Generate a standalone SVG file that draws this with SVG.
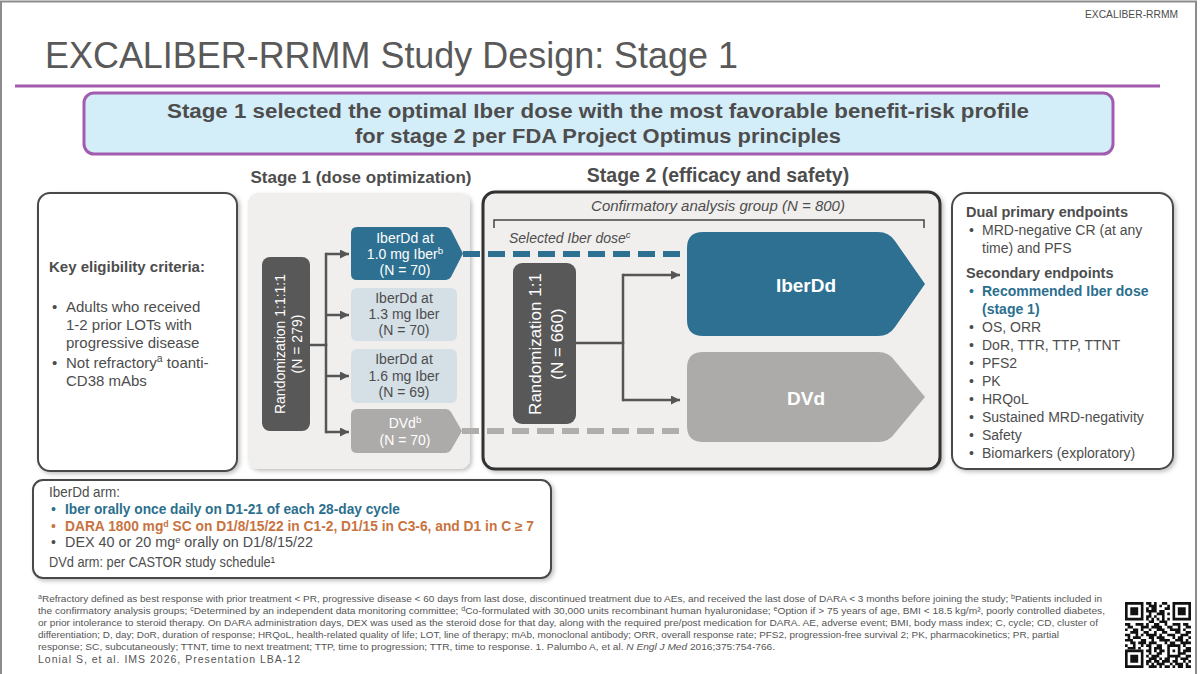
<svg xmlns="http://www.w3.org/2000/svg" width="1200" height="674" viewBox="0 0 1200 674">
<defs>
<style>
text{font-family:"Liberation Sans",Arial,Helvetica,sans-serif;fill:#4d4d4d}
.b{font-weight:bold}
.i{font-style:italic}
.w{fill:#fff}
.tl{fill:#2b6f8e}
.or{fill:#c8733f}
.fn{font-size:9.5px;fill:#555}
.box{fill:#fff;stroke:#4a4a4a;stroke-width:2}
.stage{fill:#f1efed}
.teal{fill:#2e7091}
.lb{fill:#d4dfe6}
.gr{fill:#adabaa}
.dark{fill:#595858}
.conn{fill:none;stroke:#555;stroke-width:2.5}
.trunk{fill:none;stroke:#555;stroke-width:2.5;stroke-linecap:square}
.dT{fill:none;stroke:#2e7091;stroke-width:6;stroke-dasharray:17 8}
.dG{fill:none;stroke:#b0aead;stroke-width:6;stroke-dasharray:17 8}
.sup{font-size:70%;baseline-shift:super}
.s9{font-size:9px;baseline-shift:4px}
</style>
<filter id="sh" x="-10%" y="-10%" width="130%" height="130%">
<feDropShadow dx="2" dy="2" stdDeviation="2" flood-color="#000" flood-opacity="0.25"/>
</filter>
<marker id="ah" viewBox="0 0 10 10" refX="10" refY="5" markerWidth="3.6" markerHeight="3.6" orient="auto" markerUnits="strokeWidth">
<path d="M0,0 L10,5 L0,10 z" fill="#555"/>
</marker>
</defs>

<rect x="0" y="0" width="1200" height="674" fill="#fff"/>
<path d="M1 674 V1.5 H1196 V674" fill="none" stroke="#8c8c8c" stroke-width="2"/>

<g id="header">
<text x="1085" y="18" font-size="10.5" textLength="93" lengthAdjust="spacingAndGlyphs">EXCALIBER-RRMM</text>
<text x="45" y="68" font-size="37" style="fill:#595959" textLength="693" lengthAdjust="spacingAndGlyphs">EXCALIBER-RRMM Study Design: Stage 1</text>
<line x1="15" y1="86" x2="1160" y2="86" stroke="#a25caf" stroke-width="3"/>
</g>

<g id="banner">
<rect x="84" y="93" width="1029" height="61" rx="10" fill="#d4eef9" stroke="#a25caf" stroke-width="3"/>
<text x="598" y="118" font-size="20" class="b" text-anchor="middle" textLength="862" lengthAdjust="spacingAndGlyphs">Stage 1 selected the optimal Iber dose with the most favorable benefit-risk profile</text>
<text x="598" y="143" font-size="20" class="b" text-anchor="middle" textLength="486" lengthAdjust="spacingAndGlyphs">for stage 2 per FDA Project Optimus principles</text>
</g>

<g id="eligibility">
<rect x="38" y="193" width="199" height="278" rx="12" class="box" filter="url(#sh)"/>
<text x="49" y="272" font-size="15" class="b">Key eligibility criteria:</text>
<text x="52" y="312" font-size="15">•</text>
<text x="66" y="312" font-size="15">Adults who received</text>
<text x="66" y="330" font-size="15">1-2 prior LOTs with</text>
<text x="66" y="348" font-size="15">progressive disease</text>
<text x="52" y="368" font-size="15">•</text>
<text x="66" y="368" font-size="15">Not refractory<tspan class="sup">a</tspan> toanti-</text>
<text x="66" y="386" font-size="15">CD38 mAbs</text>
</g>

<g id="stage1">
<text x="361" y="183" font-size="17" class="b" text-anchor="middle">Stage 1 (dose optimization)</text>
<rect x="248" y="193" width="222" height="276" rx="10" class="stage" filter="url(#sh)"/>
</g>

<g id="stage2">
<text x="718" y="182" font-size="19.5" class="b" text-anchor="middle">Stage 2 (efficacy and safety)</text>
<rect x="483" y="192" width="457" height="277" rx="12" class="stage" stroke="#333" stroke-width="3" filter="url(#sh)"/>
<text x="718" y="211" font-size="15" class="i" text-anchor="middle">Confirmatory analysis group (N = 800)</text>
<path d="M494 228 V220 H924 V228" fill="none" stroke="#444" stroke-width="1.5"/>
<text x="509" y="243" font-size="14" class="i">Selected Iber dose<tspan class="sup">c</tspan></text>
</g>

<g id="connectors">
<path class="trunk" d="M310 345 H326"/>
<path class="trunk" d="M326 254 V432"/>
<path class="conn" d="M326 254 H349" marker-end="url(#ah)"/>
<path class="conn" d="M326 315 H349" marker-end="url(#ah)"/>
<path class="conn" d="M326 376 H349" marker-end="url(#ah)"/>
<path class="conn" d="M326 432 H349" marker-end="url(#ah)"/>
<path class="dT" d="M463 254 H688"/>
<path class="dG" d="M462 431 H686"/>
<path class="trunk" d="M576 343 H623"/>
<path class="trunk" d="M623 275 V400"/>
<path class="conn" d="M623 275 H680" marker-end="url(#ah)"/>
<path class="conn" d="M623 400 H680" marker-end="url(#ah)"/>
</g>

<g id="rand1">
<rect x="262" y="257" width="48" height="174" rx="8" class="dark"/>
<text transform="translate(285,344) rotate(-90)" font-size="14" class="w" text-anchor="middle">Randomization 1:1:1:1</text>
<text transform="translate(302,344) rotate(-90)" font-size="14" class="w" text-anchor="middle">(N = 279)</text>
</g>

<g id="arm-iber10">
<path class="teal" d="M357 227 H446 Q449 227 451 230 L463 253.5 L451 277 Q449 280 446 280 H357 Q351 280 351 274 V233 Q351 227 357 227 Z"/>
<text x="405" y="243" font-size="14" class="w" text-anchor="middle">IberDd at</text>
<text x="405" y="259" font-size="14" class="w" text-anchor="middle">1.0 mg Iber<tspan class="sup">b</tspan></text>
<text x="405" y="275" font-size="14" class="w" text-anchor="middle">(N = 70)</text>
</g>

<g id="arm-iber13">
<rect x="351" y="288" width="106" height="53" rx="6" class="lb"/>
<text x="404" y="303" font-size="14" text-anchor="middle">IberDd at</text>
<text x="404" y="319" font-size="14" text-anchor="middle">1.3 mg Iber</text>
<text x="404" y="335" font-size="14" text-anchor="middle">(N = 70)</text>
</g>

<g id="arm-iber16">
<rect x="351" y="349" width="106" height="54" rx="6" class="lb"/>
<text x="404" y="364" font-size="14" text-anchor="middle">IberDd at</text>
<text x="404" y="381" font-size="14" text-anchor="middle">1.6 mg Iber</text>
<text x="404" y="397" font-size="14" text-anchor="middle">(N = 69)</text>
</g>

<g id="arm-dvd1">
<path class="gr" d="M357 409 H446 Q449 409 451 412 L462 431 L451 450 Q449 453 446 453 H357 Q351 453 351 447 V415 Q351 409 357 409 Z"/>
<text x="405" y="428" font-size="14" class="w" text-anchor="middle">DVd<tspan class="sup">b</tspan></text>
<text x="405" y="445" font-size="14" class="w" text-anchor="middle">(N = 70)</text>
</g>

<g id="rand2">
<rect x="513" y="263" width="63" height="161" rx="9" class="dark"/>
<text transform="translate(541,344) rotate(-90)" font-size="17" class="w" text-anchor="middle">Randomization 1:1</text>
<text transform="translate(563,344) rotate(-90)" font-size="17" class="w" text-anchor="middle">(N = 660)</text>
</g>

<g id="arm-iberdd">
<path class="teal" d="M703 232 H878 Q889 232 895 241 L925 284 L895 327 Q889 336 878 336 H703 Q687 336 687 320 V248 Q687 232 703 232 Z"/>
<text x="806" y="292" font-size="19" class="w b" text-anchor="middle">IberDd</text>
</g>

<g id="arm-dvd">
<path class="gr" d="M703 352 H878 Q889 352 895 361 L925 397 L895 433 Q889 442 878 442 H703 Q687 442 687 426 V368 Q687 352 703 352 Z"/>
<text x="806" y="405" font-size="19" class="w b" text-anchor="middle">DVd</text>
</g>

<g id="endpoints">
<rect x="952" y="193" width="221" height="276" rx="14" class="box" filter="url(#sh)"/>
<text x="966" y="217" font-size="14.5" class="b">Dual primary endpoints</text>
<text x="969" y="235" font-size="14">•</text>
<text x="982" y="235" font-size="14">MRD-negative CR (at any</text>
<text x="982" y="253" font-size="14">time) and PFS</text>
<text x="966" y="278" font-size="14.5" class="b">Secondary endpoints</text>
<text x="969" y="296" font-size="14" class="tl">•</text>
<text x="982" y="296" font-size="14" class="b tl">Recommended Iber dose</text>
<text x="982" y="314" font-size="14" class="b tl">(stage 1)</text>
<text x="969" y="332" font-size="14">•</text>
<text x="982" y="332" font-size="14">OS, ORR</text>
<text x="969" y="350" font-size="14">•</text>
<text x="982" y="350" font-size="14">DoR, TTR, TTP, TTNT</text>
<text x="969" y="368" font-size="14">•</text>
<text x="982" y="368" font-size="14">PFS2</text>
<text x="969" y="386" font-size="14">•</text>
<text x="982" y="386" font-size="14">PK</text>
<text x="969" y="404" font-size="14">•</text>
<text x="982" y="404" font-size="14">HRQoL</text>
<text x="969" y="422" font-size="14">•</text>
<text x="982" y="422" font-size="14">Sustained MRD-negativity</text>
<text x="969" y="440" font-size="14">•</text>
<text x="982" y="440" font-size="14">Safety</text>
<text x="969" y="458" font-size="14">•</text>
<text x="982" y="458" font-size="14">Biomarkers (exploratory)</text>
</g>

<g id="arms-detail">
<rect x="33" y="480" width="518" height="98" rx="10" class="box" filter="url(#sh)"/>
<text x="49" y="497" font-size="14" textLength="71" lengthAdjust="spacingAndGlyphs">IberDd arm:</text>
<text x="51" y="514" font-size="14" class="tl">•</text>
<text x="65" y="514" font-size="14" class="b tl" textLength="335" lengthAdjust="spacingAndGlyphs">Iber orally once daily on D1-21 of each 28-day cycle</text>
<text x="51" y="531" font-size="14" class="or">•</text>
<text x="65" y="531" font-size="14" class="b or" textLength="469" lengthAdjust="spacingAndGlyphs">DARA 1800 mg<tspan class="s9">d</tspan> SC on D1/8/15/22 in C1-2, D1/15 in C3-6, and D1 in C ≥ 7</text>
<text x="51" y="547" font-size="14">•</text>
<text x="65" y="547" font-size="14" textLength="248" lengthAdjust="spacingAndGlyphs">DEX 40 or 20 mg<tspan class="s9">e</tspan> orally on D1/8/15/22</text>
<text x="49" y="567" font-size="14" textLength="226" lengthAdjust="spacingAndGlyphs">DVd arm: per CASTOR study schedule¹</text>
</g>

<g id="footnotes">
<text x="38" y="602" class="fn" textLength="1064" lengthAdjust="spacingAndGlyphs"><tspan class="sup">a</tspan>Refractory defined as best response with prior treatment &lt; PR, progressive disease &lt; 60 days from last dose, discontinued treatment due to AEs, and received the last dose of DARA &lt; 3 months before joining the study; <tspan class="sup">b</tspan>Patients included in</text>
<text x="38" y="614" class="fn" textLength="1067" lengthAdjust="spacingAndGlyphs">the confirmatory analysis groups; <tspan class="sup">c</tspan>Determined by an independent data monitoring committee; <tspan class="sup">d</tspan>Co-formulated with 30,000 units recombinant human hyaluronidase; <tspan class="sup">e</tspan>Option if &gt; 75 years of age, BMI &lt; 18.5 kg/m², poorly controlled diabetes,</text>
<text x="38" y="626" class="fn" textLength="1060" lengthAdjust="spacingAndGlyphs">or prior intolerance to steroid therapy. On DARA administration days, DEX was used as the steroid dose for that day, along with the required pre/post medication for DARA. AE, adverse event; BMI, body mass index; C, cycle; CD, cluster of</text>
<text x="38" y="638" class="fn" textLength="1021" lengthAdjust="spacingAndGlyphs">differentiation; D, day; DoR, duration of response; HRQoL, health-related quality of life; LOT, line of therapy; mAb, monoclonal antibody; ORR, overall response rate; PFS2, progression-free survival 2; PK, pharmacokinetics; PR, partial</text>
<text x="38" y="650" class="fn" textLength="737" lengthAdjust="spacingAndGlyphs">response; SC, subcutaneously; TTNT, time to next treatment; TTP, time to progression; TTR, time to response. 1. Palumbo A, et al. <tspan class="i">N Engl J Med</tspan> 2016;375:754-766.</text>
<text x="38" y="663" font-size="10.5" style="fill:#555" textLength="262" lengthAdjust="spacing">Lonial S, et al. IMS 2026, Presentation LBA-12</text>
</g>

<g id="qr" transform="translate(1125,602) scale(2.64)">
<path fill="#111" fill-rule="evenodd" d="M0 0h7v7h-7z M1 1v5h5v-5z M2 2h3v3h-3z M18 0h7v7h-7z M19 1v5h5v-5z M20 2h3v3h-3z M0 18h7v7h-7z M1 19v5h5v-5z M2 20h3v3h-3z"/>
<path fill="none" stroke="#111" stroke-width="1" d="M8 .5h2M11 .5h1M14 .5h2 M9 1.5h3M13 1.5h1M16 1.5h1 M8 2.5h1M10 2.5h2M15 2.5h2 M8 3.5h4M13 3.5h2 M9 4.5h1M12 4.5h3M16 4.5h1 M8 5.5h2M11 5.5h1M14 5.5h1 M8 6.5h1M10 6.5h1M12 6.5h1M14 6.5h1M16 6.5h1 M9 7.5h2M13 7.5h3 M0 8.5h2M4 8.5h3M8 8.5h1M11 8.5h2M15 8.5h1M18 8.5h3M22 8.5h2 M1 9.5h2M6 9.5h3M10 9.5h4M16 9.5h2M20 9.5h1M23 9.5h2 M0 10.5h1M3 10.5h2M6 10.5h1M9 10.5h1M12 10.5h3M17 10.5h4M22 10.5h1 M2 11.5h3M7 11.5h2M11 11.5h1M14 11.5h2M19 11.5h2M23 11.5h2 M0 12.5h2M4 12.5h1M6 12.5h1M8 12.5h4M13 12.5h1M16 12.5h3M21 12.5h3 M1 13.5h1M3 13.5h3M9 13.5h2M12 13.5h3M18 13.5h1M20 13.5h2M24 13.5h1 M0 14.5h3M6 14.5h2M10 14.5h1M13 14.5h4M19 14.5h3M23 14.5h1 M2 15.5h2M5 15.5h3M9 15.5h3M15 15.5h1M17 15.5h2M21 15.5h4 M0 16.5h1M3 16.5h1M6 16.5h1M8 16.5h2M12 16.5h2M16 16.5h5M22 16.5h1 M1 17.5h3M5 17.5h1M9 17.5h1M11 17.5h3M16 17.5h1M20 17.5h1M23 17.5h2 M8 18.5h2M11 18.5h1M13 18.5h2M16 18.5h1M18 18.5h1M20 18.5h1M22 18.5h3 M9 19.5h1M12 19.5h2M16 19.5h1M20 19.5h3 M8 20.5h1M10 20.5h3M16 20.5h5M23 20.5h2 M9 21.5h3M13 21.5h1M15 21.5h2M19 21.5h1M21 21.5h3 M8 22.5h2M11 22.5h2M14 22.5h3M18 22.5h2M22 22.5h1M24 22.5h1 M8 23.5h1M10 23.5h1M12 23.5h3M17 23.5h1M19 23.5h3M23 23.5h1 M9 24.5h3M13 24.5h1M15 24.5h2M18 24.5h1M20 24.5h2M23 24.5h2"/>
</g>
</svg>
